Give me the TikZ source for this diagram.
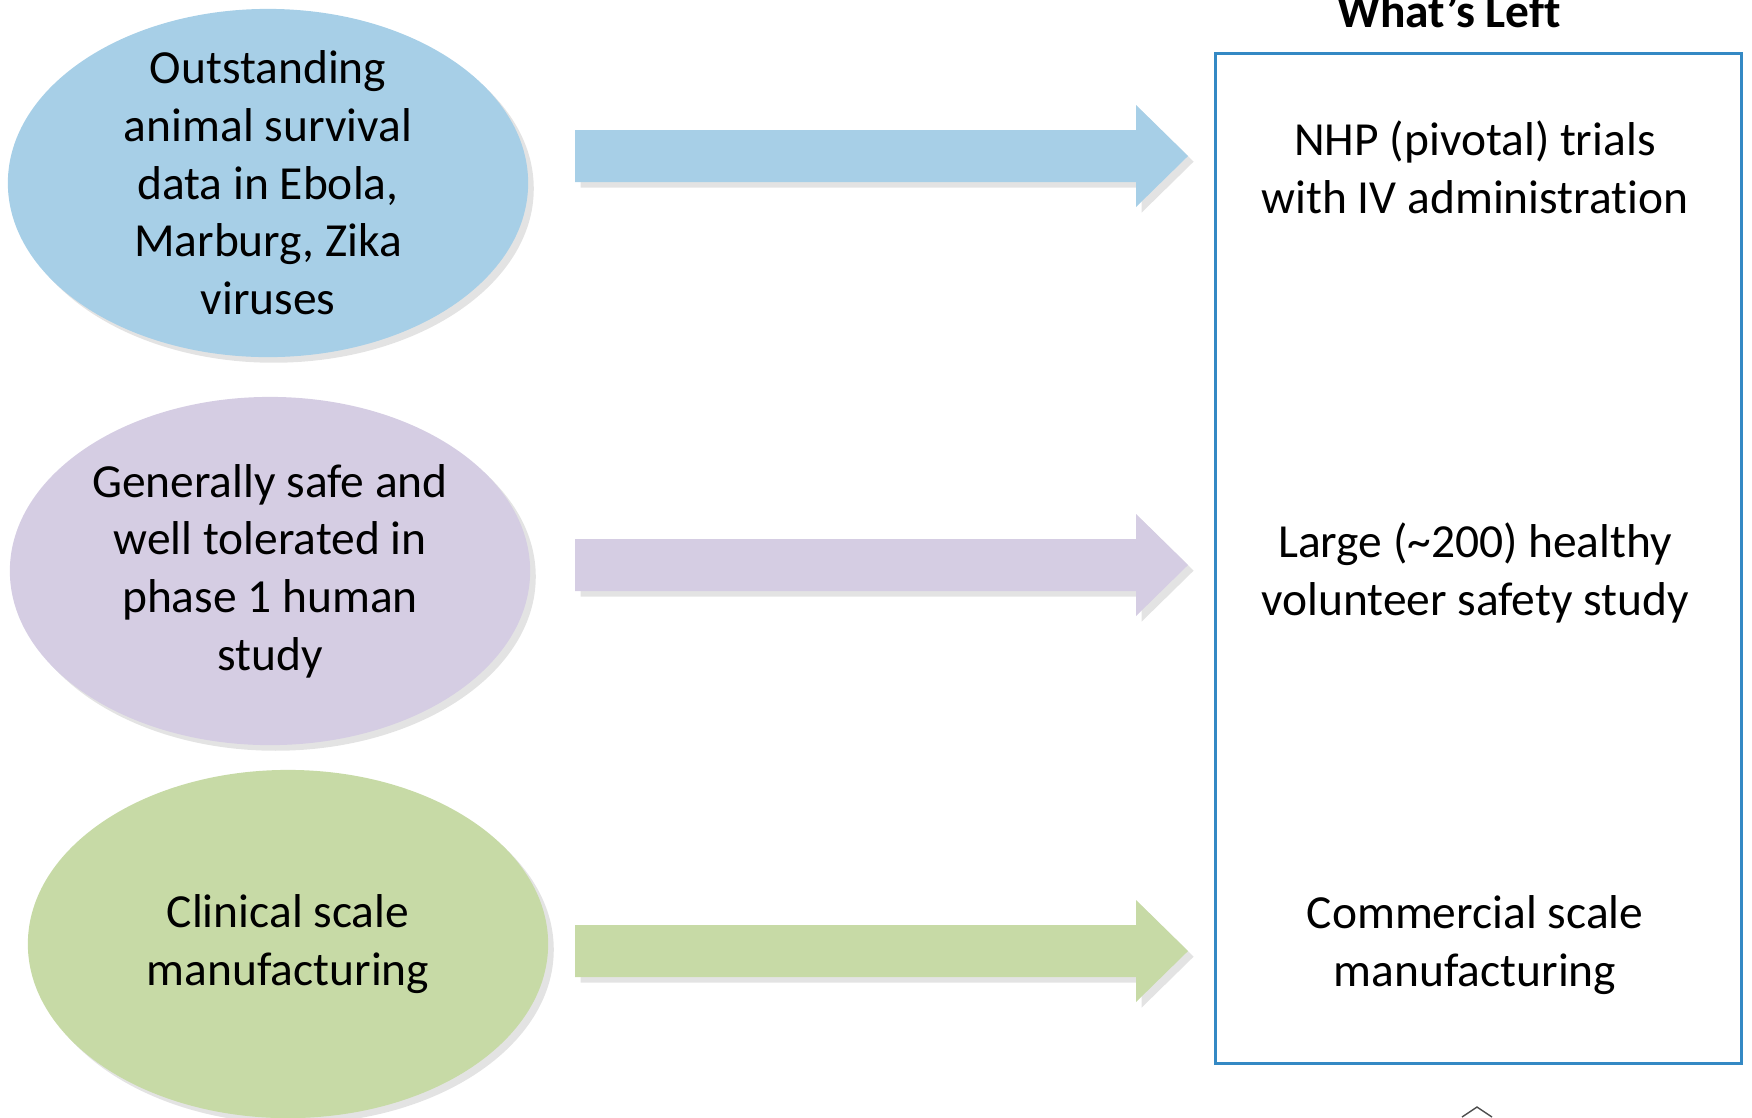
\documentclass[tikz,border=0pt]{standalone}
\usepackage{fontspec}
\setmainfont[Ligatures={TeX,NoCommon}]{Carlito}
\usepackage{xcolor}
\usepackage{tikz}
\usetikzlibrary{positioning,shapes.geometric,shadows}

\definecolor{skyfill}{RGB}{167,207,231}
\definecolor{lilacfill}{RGB}{213,205,227}
\definecolor{sagefill}{RGB}{199,218,166}
\definecolor{frameblue}{RGB}{52,137,196}

\begin{document}
\begin{tikzpicture}[x=0.01cm, y=-0.01cm,
        every node/.style={font=\fontsize{13.5}{16.4}\selectfont},
        softshadow/.style={drop shadow={opacity=0.22, shadow xshift=1.6pt, shadow yshift=-1.6pt}},
        bubble/.style={ellipse, minimum width=5.2cm, minimum height=3.48cm,
                       inner sep=-0.3cm, align=center, softshadow}]
        \useasboundingbox (0,0) rectangle (1752,1117);

        % Ellipses (what we have)
        \node[bubble, fill=skyfill] (animal) at (268,183)
            {Outstanding\\animal survival\\data in Ebola,\\Marburg, Zika\\viruses};
        \node[bubble, fill=lilacfill] (safety) at (270,571)
            {Generally safe and\\well tolerated in\\phase 1 human\\study};
        \node[bubble, fill=sagefill] (clinical) at (288,944)
            {Clinical scale\\manufacturing};

        % Block arrows
        \foreach \yy/\col in {156/skyfill, 565/lilacfill, 951/sagefill} {
            \fill[\col, softshadow] (575,\yy-26) -- (1136,\yy-26) -- (1136,\yy-51)
                -- (1188,\yy) -- (1136,\yy+51) -- (1136,\yy+26) -- (575,\yy+26) -- cycle;
        }

        % What's left box
        \node[draw=frameblue, line width=0.8pt, inner sep=0pt,
              minimum width=5.25cm, minimum height=10.09cm] (leftbox) at (1478.5,558.5) {};
        \node[anchor=base, font=\fontsize{13.5}{16.4}\selectfont\bfseries] (title) at (1449,27) {What's Left};

        \node[align=center] (nhp) at (1475,167) {NHP (pivotal) trials\\with IV administration};
        \node[align=center] (large) at (1475,573) {Large (\textasciitilde200) healthy\\volunteer safety study};
        \node[align=center] (commercial) at (1475,945) {Commercial scale\\manufacturing};

        % cut-off mark at the bottom
        \draw[gray!60!black, line width=0.4pt] (1462,1117) -- (1477,1107) -- (1492,1117);
    \end{tikzpicture}
\end{document}
